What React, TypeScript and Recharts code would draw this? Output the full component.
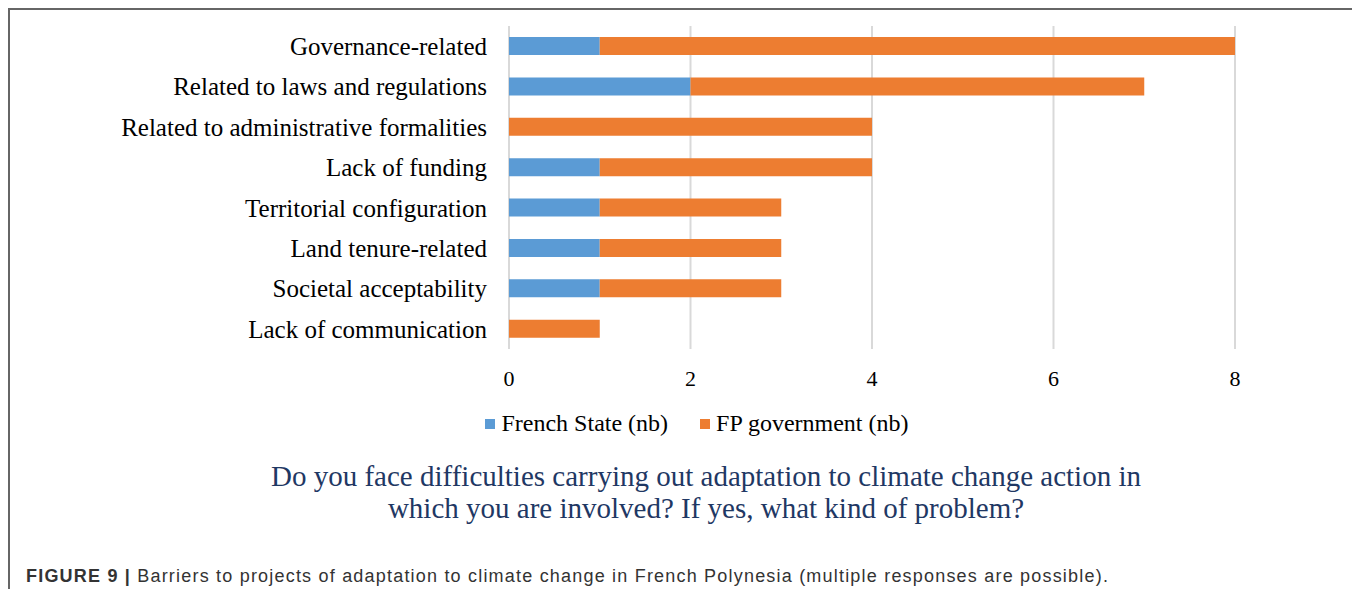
import React from 'react';
import { BarChart, Bar, XAxis, YAxis, CartesianGrid } from 'recharts';

const categories = [
  'Governance-related',
  'Related to laws and regulations',
  'Related to administrative formalities',
  'Lack of funding',
  'Territorial configuration',
  'Land tenure-related',
  'Societal acceptability',
  'Lack of communication',
];
const frenchState = [1, 2, 0, 1, 1, 1, 1, 0];
const fpGovernment = [7, 5, 4, 3, 2, 2, 2, 1];
const xTicks = [0, 2, 4, 6, 8];
const seriesNames = ['French State (nb)', 'FP government (nb)'];

const BLUE = '#5B9BD5';
const ORANGE = '#ED7D31';
const SERIF = '"Liberation Serif", "Times New Roman", serif';

const data = categories.map((name, i) => ({
  name,
  french: frenchState[i],
  fp: fpGovernment[i],
}));

const LegendBox = () => (
  <div style={{ display: 'flex', justifyContent: 'center', gap: 32, fontFamily: SERIF, fontSize: 24, color: '#000' }}>
    {[
      { label: seriesNames[0], color: BLUE },
      { label: seriesNames[1], color: ORANGE },
    ].map((item) => (
      <div key={item.label} style={{ display: 'flex', alignItems: 'center', gap: 6 }}>
        <div style={{ width: 10, height: 10, background: item.color }} />
        <span>{item.label}</span>
      </div>
    ))}
  </div>
);

export default function App() {
  return (
    <div
      style={{
        position: 'relative',
        width: 1348,
        height: 600,
        border: '2px solid #666',
        borderBottom: 'none',
        boxSizing: 'border-box',
      }}
    >
      <div style={{ position: 'absolute', left: 0, top: 0 }}>
        <BarChart
          width={1300}
          height={390}
          data={data}
          layout="vertical"
          barSize={18}
          margin={{ top: 16, right: 75, bottom: 1, left: 0 }}
        >
          <CartesianGrid horizontal={false} stroke="#d9d9d9" strokeWidth={2} />
          <XAxis
            type="number"
            domain={[0, 8]}
            ticks={xTicks}
            axisLine={false}
            tickLine={false}
            height={50}
            tickMargin={15}
            tick={{ fill: '#000', fontSize: 22, fontFamily: SERIF }}
          />
          <YAxis
            type="category"
            dataKey="name"
            width={499}
            axisLine={false}
            tickLine={false}
            tickMargin={16}
            interval={0}
            tick={{ fill: '#000', fontSize: 25, fontFamily: SERIF }}
          />
          <Bar dataKey="french" name={seriesNames[0]} stackId="a" fill={BLUE} isAnimationActive={false} />
          <Bar dataKey="fp" name={seriesNames[1]} stackId="a" fill={ORANGE} isAnimationActive={false} />
        </BarChart>
      </div>
      <div style={{ position: 'absolute', left: 0, top: 400, width: 1374 }}>
        <LegendBox />
      </div>
      <div
        style={{
          position: 'absolute',
          left: 0,
          top: 450,
          width: 1392,
          textAlign: 'center',
          fontFamily: SERIF,
          fontSize: 29,
          lineHeight: '32px',
          color: '#1F3864',
        }}
      >
        Do you face difficulties carrying out adaptation to climate change action in
        <br />
        which you are involved? If yes, what kind of problem?
      </div>
      <div
        style={{
          position: 'absolute',
          left: 16,
          top: 556,
          fontFamily: '"Liberation Sans", Arial, sans-serif',
          fontSize: 18,
          letterSpacing: 1.2,
          color: '#333',
          whiteSpace: 'nowrap',
        }}
      >
        <b>FIGURE 9 |</b> Barriers to projects of adaptation to climate change in French Polynesia (multiple responses are possible).
      </div>
    </div>
  );
}
